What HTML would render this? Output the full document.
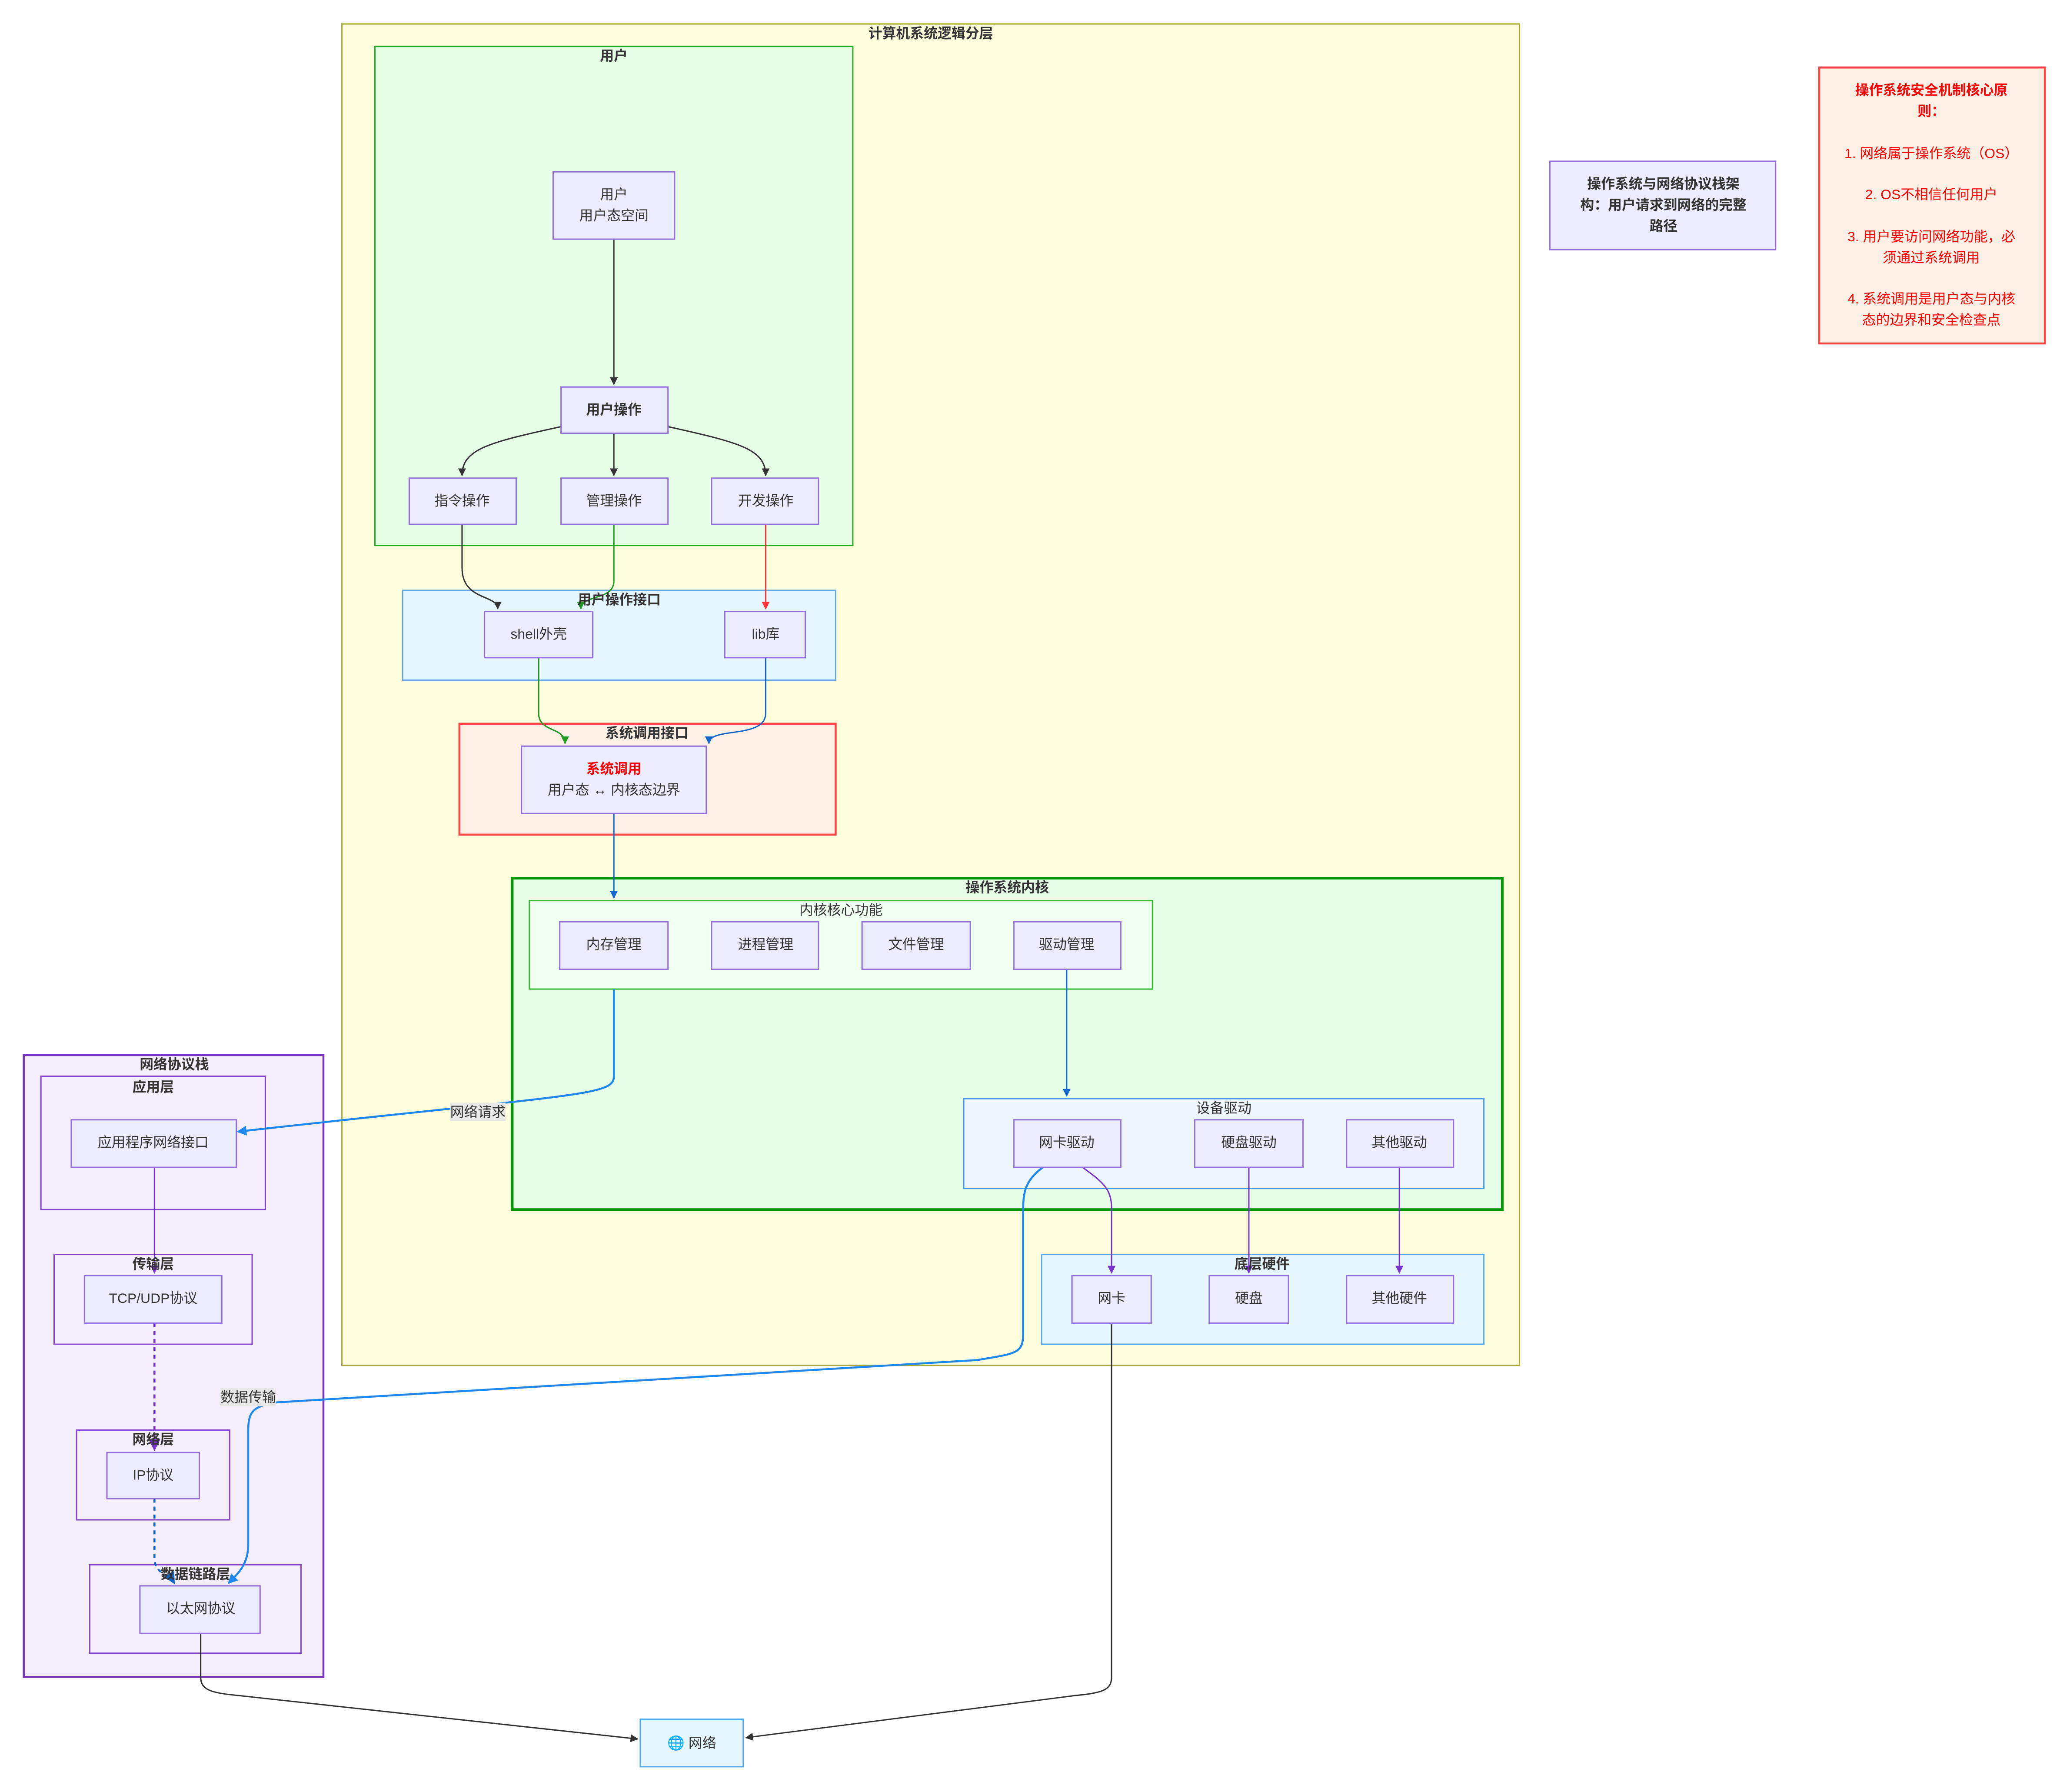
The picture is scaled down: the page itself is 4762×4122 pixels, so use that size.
<!DOCTYPE html>
<html><head><meta charset="utf-8"><style>
html,body{margin:0;padding:0;background:#fff;}
svg{display:block;}
text{font-family:"Liberation Sans","Noto Sans CJK SC",sans-serif;fill:#333;font-size:10.5px;text-anchor:middle;dominant-baseline:central;}
.b{font-weight:bold;}
.n{fill:#ececff;stroke:#9370db;stroke-width:1;}
</style></head><body>
<svg width="4762" height="4122" viewBox="0 0 1568 1357" xmlns="http://www.w3.org/2000/svg">
<defs>
<marker id="ad" viewBox="0 0 10 10" refX="9" refY="5" markerWidth="6" markerHeight="6" orient="auto"><path d="M0,0L10,5L0,10z" fill="#333"/></marker>
<marker id="ag" viewBox="0 0 10 10" refX="9" refY="5" markerWidth="6" markerHeight="6" orient="auto"><path d="M0,0L10,5L0,10z" fill="#229922"/></marker>
<marker id="ar" viewBox="0 0 10 10" refX="9" refY="5" markerWidth="6" markerHeight="6" orient="auto"><path d="M0,0L10,5L0,10z" fill="#ff3333"/></marker>
<marker id="ab" viewBox="0 0 10 10" refX="9" refY="5" markerWidth="6" markerHeight="6" orient="auto"><path d="M0,0L10,5L0,10z" fill="#1166cc"/></marker>
<marker id="ab2" viewBox="0 0 10 10" refX="9" refY="5" markerWidth="5" markerHeight="5" orient="auto"><path d="M0,0L10,5L0,10z" fill="#1e88ee"/></marker>
<marker id="ap" viewBox="0 0 10 10" refX="9" refY="5" markerWidth="6" markerHeight="6" orient="auto"><path d="M0,0L10,5L0,10z" fill="#7733cc"/></marker>
</defs>

<!-- outer yellow -->
<rect x="259" y="18" width="892" height="1016" fill="#ffffde" stroke="#aaaa33" stroke-width="1"/>
<text x="705" y="25" class="b">计算机系统逻辑分层</text>

<!-- 用户 -->
<rect x="284" y="35" width="362" height="378" fill="#e6fde6" stroke="#22aa22" stroke-width="1"/>
<text x="465" y="42" class="b">用户</text>

<!-- 用户操作接口 -->
<rect x="305" y="447" width="328" height="68" fill="#e6f6ff" stroke="#66aadd" stroke-width="1"/>
<!-- 系统调用接口 -->
<rect x="348" y="548" width="285" height="84" fill="#fff0e6" stroke="#ff4444" stroke-width="1.5"/>
<!-- kernel -->
<rect x="388" y="665" width="750" height="251" fill="#e6fde6" stroke="#009900" stroke-width="2"/>
<text x="763" y="672" class="b">操作系统内核</text>
<rect x="401" y="682" width="472" height="67" fill="#f0fff0" stroke="#33bb33" stroke-width="1"/>
<text x="637" y="689">内核核心功能</text>
<rect x="730" y="832" width="394" height="68" fill="#eef6ff" stroke="#4499ee" stroke-width="1"/>
<text x="927" y="839">设备驱动</text>
<!-- hardware -->
<rect x="789" y="950" width="335" height="68" fill="#e6f6ff" stroke="#55aaee" stroke-width="1"/>

<!-- network stack -->
<rect x="18" y="799" width="227" height="471" fill="#f5eefc" stroke="#7733bb" stroke-width="1.5"/>
<text x="132" y="806" class="b">网络协议栈</text>
<rect x="31" y="815" width="170" height="101" fill="#f5eefc" stroke="#8844cc" stroke-width="1"/>
<text x="116" y="823" class="b">应用层</text>
<rect x="41" y="950" width="150" height="68" fill="#f5eefc" stroke="#8844cc" stroke-width="1"/>
<rect x="58" y="1083" width="116" height="68" fill="#f5eefc" stroke="#8844cc" stroke-width="1"/>
<rect x="68" y="1185" width="160" height="67" fill="#f5eefc" stroke="#8844cc" stroke-width="1"/>

<!-- edges -->
<g fill="none" stroke-width="1">
<path d="M465,181V291" stroke="#333" marker-end="url(#ad)"/>
<path d="M425,323C370,335 350,340 350,360" stroke="#333" marker-end="url(#ad)"/>
<path d="M465,328V360" stroke="#333" marker-end="url(#ad)"/>
<path d="M506,323C560,335 580,340 580,360" stroke="#333" marker-end="url(#ad)"/>
<path d="M350,397V430C350,455 377,450 377,461" stroke="#333" marker-end="url(#ad)"/>
<path d="M465,397V440C465,455 440,450 440,461" stroke="#229922" marker-end="url(#ag)"/>
<path d="M580,397V461" stroke="#ff3333" marker-end="url(#ar)"/>
<path d="M408,498V540C408,555 428,550 428,563" stroke="#229922" marker-end="url(#ag)"/>
<path d="M580,498V540C580,560 537,550 537,563" stroke="#1166cc" marker-end="url(#ab)"/>
<path d="M465,616V680" stroke="#1166cc" marker-end="url(#ab)"/>
<path d="M808,734V830" stroke="#1166cc" marker-end="url(#ab)"/>
<path d="M465,749V815C465,830 440,828 180,857" stroke="#1e88ee" stroke-width="1.5" marker-end="url(#ab2)"/>
<path d="M117,884V964" stroke="#7733cc" marker-end="url(#ap)"/>
<path d="M117,1002V1098" stroke="#7733cc" stroke-width="1.5" stroke-dasharray="3,3" marker-end="url(#ap)"/>
<path d="M117,1135V1180C117,1192 128,1192 132,1199" stroke="#1166cc" stroke-width="1.5" stroke-dasharray="3,3" marker-end="url(#ab)"/>
<path d="M790,884C775,895 775,905 775,920V1010C775,1025 770,1025 740,1030L210,1062C190,1065 188,1070 188,1085V1170C188,1185 180,1192 173,1199" stroke="#1e88ee" stroke-width="1.5" marker-end="url(#ab2)"/>
<path d="M820,884C835,895 842,900 842,915V964" stroke="#7733cc" marker-end="url(#ap)"/>
<path d="M946,884V964" stroke="#7733cc" marker-end="url(#ap)"/>
<path d="M1060,884V964" stroke="#7733cc" marker-end="url(#ap)"/>
<path d="M152,1237V1270C152,1280 160,1282 180,1284L483,1317" stroke="#333" marker-end="url(#ad)"/>
<path d="M842,1002V1270C842,1280 835,1282 815,1284L565,1316" stroke="#333" marker-end="url(#ad)"/>
</g>

<!-- group titles drawn over edges -->
<text x="469" y="454" class="b">用户操作接口</text>
<text x="490" y="555" class="b">系统调用接口</text>
<text x="956" y="957" class="b">底层硬件</text>
<text x="116" y="957" class="b">传输层</text>
<text x="116" y="1090" class="b">网络层</text>
<text x="148" y="1192" class="b">数据链路层</text>

<!-- edge labels -->
<rect x="341" y="835" width="42" height="14" fill="#e8e8e8"/>
<text x="362" y="842">网络请求</text>
<rect x="167" y="1051" width="42" height="14" fill="#e8e8e8"/>
<text x="188" y="1058">数据传输</text>

<!-- nodes -->
<rect class="n" x="419" y="130" width="92" height="51"/>
<text x="465" y="147">用户</text><text x="465" y="163">用户态空间</text>
<rect class="n" x="425" y="293" width="81" height="35"/><text x="465" y="310" class="b">用户操作</text>
<rect class="n" x="310" y="362" width="81" height="35"/><text x="350" y="379">指令操作</text>
<rect class="n" x="425" y="362" width="81" height="35"/><text x="465" y="379">管理操作</text>
<rect class="n" x="539" y="362" width="81" height="35"/><text x="580" y="379">开发操作</text>
<rect class="n" x="367" y="463" width="82" height="35"/><text x="408" y="480">shell外壳</text>
<rect class="n" x="549" y="463" width="61" height="35"/><text x="580" y="480">lib库</text>
<rect class="n" x="395" y="565" width="140" height="51"/>
<text x="465" y="582" class="b" style="fill:#ff0000">系统调用</text><text x="465" y="598">用户态 ↔ 内核态边界</text>
<rect class="n" x="424" y="698" width="82" height="36"/><text x="465" y="715">内存管理</text>
<rect class="n" x="539" y="698" width="81" height="36"/><text x="580" y="715">进程管理</text>
<rect class="n" x="653" y="698" width="82" height="36"/><text x="694" y="715">文件管理</text>
<rect class="n" x="768" y="698" width="81" height="36"/><text x="808" y="715">驱动管理</text>
<rect class="n" x="768" y="848" width="81" height="36"/><text x="808" y="865">网卡驱动</text>
<rect class="n" x="905" y="848" width="82" height="36"/><text x="946" y="865">硬盘驱动</text>
<rect class="n" x="1020" y="848" width="81" height="36"/><text x="1060" y="865">其他驱动</text>
<rect class="n" x="812" y="966" width="60" height="36"/><text x="842" y="983">网卡</text>
<rect class="n" x="916" y="966" width="60" height="36"/><text x="946" y="983">硬盘</text>
<rect class="n" x="1020" y="966" width="81" height="36"/><text x="1060" y="983">其他硬件</text>
<rect class="n" x="54" y="848" width="125" height="36"/><text x="116" y="865">应用程序网络接口</text>
<rect class="n" x="64" y="966" width="104" height="36"/><text x="116" y="983">TCP/UDP协议</text>
<rect class="n" x="81" y="1100" width="70" height="35"/><text x="116" y="1117">IP协议</text>
<rect class="n" x="106" y="1201" width="91" height="36"/><text x="152" y="1218">以太网协议</text>
<rect x="485" y="1302" width="78" height="36" fill="#e6f6ff" stroke="#55aaee" stroke-width="1"/>
<text x="524" y="1320">🌐 网络</text>

<!-- title node -->
<rect class="n" x="1174" y="122" width="171" height="67"/>
<text x="1260" y="139" class="b">操作系统与网络协议栈架</text>
<text x="1260" y="155" class="b">构：用户请求到网络的完整</text>
<text x="1260" y="171" class="b">路径</text>

<!-- security box -->
<rect x="1378" y="51" width="171" height="209" fill="#fff0e6" stroke="#ff4444" stroke-width="1.5"/>
<g style="fill:#ff0000">
<text x="1463" y="68" class="b" style="fill:#ff0000">操作系统安全机制核心原</text>
<text x="1463" y="84" class="b" style="fill:#ff0000">则：</text>
<text x="1463" y="116" style="fill:#ff0000">1. 网络属于操作系统（OS）</text>
<text x="1463" y="147" style="fill:#ff0000">2. OS不相信任何用户</text>
<text x="1463" y="179" style="fill:#ff0000">3. 用户要访问网络功能，必</text>
<text x="1463" y="195" style="fill:#ff0000">须通过系统调用</text>
<text x="1463" y="226" style="fill:#ff0000">4. 系统调用是用户态与内核</text>
<text x="1463" y="242" style="fill:#ff0000">态的边界和安全检查点</text>
</g>
</svg>
</body></html>
